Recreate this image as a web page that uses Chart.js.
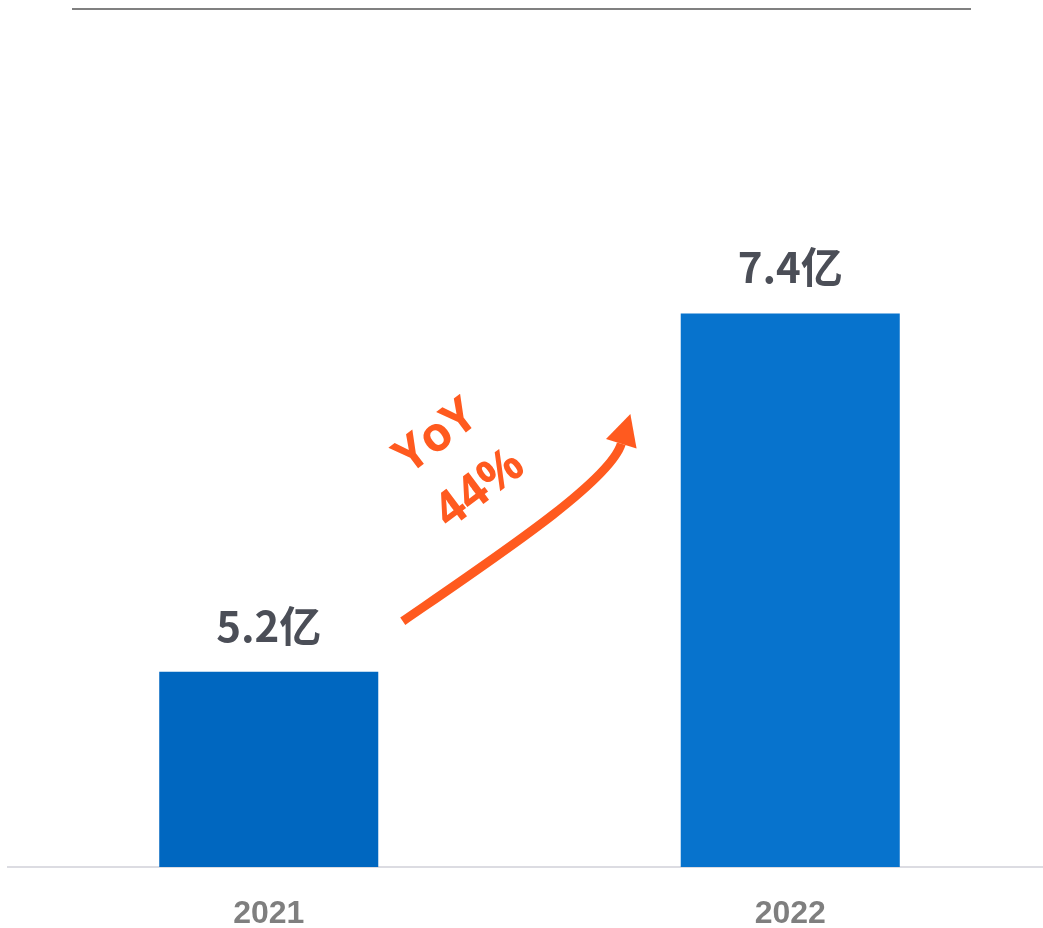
<!DOCTYPE html>
<html>
<head>
<meta charset="utf-8">
<script src="https://cdn.jsdelivr.net/npm/chart.js@4"></script>
<style>
  html, body { margin: 0; padding: 0; background: #fff; overflow: hidden; }
  #wrap { width: 1043px; height: 928px; overflow: hidden; }
</style>
</head>
<body>
<div id="wrap"><canvas id="chart" width="1051" height="928"></canvas></div>
<script>
const years = ['2021', '2022'];
const revenue = [5.2, 7.4];
const valueLabels = ['5.2亿', '7.4亿'];
const barColors = ['#0067c0', '#0773cd'];
const growthText = ['YoY', '44%'];

const orange = '#ff5a1f';

// curve & label positions in data space (category index, value)
const arrowPath = [[0.257, 5.51], [0.443, 5.92], [0.654, 6.37], [0.676, 6.60]];
const growthPos = [[0.322, 6.64], [0.405, 6.32]];

const decorations = {
  id: 'decorations',
  afterDatasetsDraw(chart) {
    const ctx = chart.ctx;
    const xs = chart.scales.x;
    const ys = chart.scales.y;
    const px = p => [xs.getPixelForValue(p[0]), ys.getPixelForValue(p[1])];

    ctx.save();
    // top rule
    ctx.strokeStyle = '#808080';
    ctx.lineWidth = 2;
    ctx.beginPath();
    ctx.moveTo(72, 9);
    ctx.lineTo(971, 9);
    ctx.stroke();

    // value labels above bars
    ctx.fillStyle = '#4b4e57';
    ctx.font = 'bold 42px "Noto Sans CJK SC"';
    ctx.textAlign = 'center';
    ctx.textBaseline = 'alphabetic';
    chart.getDatasetMeta(0).data.forEach((bar, i) => {
      ctx.fillText(valueLabels[i], bar.x, bar.y - 30);
    });

    // growth arrow
    const pts = arrowPath.map(px);
    ctx.strokeStyle = orange;
    ctx.lineWidth = 9;
    ctx.lineCap = 'butt';
    ctx.beginPath();
    ctx.moveTo(pts[0][0], pts[0][1]);
    ctx.bezierCurveTo(pts[1][0], pts[1][1], pts[2][0], pts[2][1], pts[3][0], pts[3][1]);
    ctx.stroke();
    let dx = pts[3][0] - pts[2][0], dy = pts[3][1] - pts[2][1];
    const len = Math.hypot(dx, dy);
    dx /= len; dy /= len;
    const headLen = 31, half = 16;
    const tip = [pts[3][0] + dx * headLen, pts[3][1] + dy * headLen];
    ctx.fillStyle = orange;
    ctx.beginPath();
    ctx.moveTo(tip[0], tip[1]);
    ctx.lineTo(pts[3][0] - dy * half, pts[3][1] + dx * half);
    ctx.lineTo(pts[3][0] + dy * half, pts[3][1] - dx * half);
    ctx.closePath();
    ctx.fill();

    // growth text
    ctx.font = 'bold 48px "Open Sans"';
    ctx.textBaseline = 'middle';
    growthText.forEach((t, i) => {
      const p = px(growthPos[i]);
      ctx.save();
      ctx.translate(p[0], p[1]);
      ctx.rotate(-37 * Math.PI / 180);
      ctx.fillText(t, 0, 0);
      ctx.restore();
    });
    ctx.restore();
  }
};

new Chart(document.getElementById('chart'), {
  type: 'bar',
  data: {
    labels: years,
    datasets: [{
      data: revenue,
      backgroundColor: barColors,
      barPercentage: 0.42,
      categoryPercentage: 1
    }]
  },
  options: {
    responsive: false,
    animation: false,
    layout: { padding: { top: 53, left: 8, right: 0, bottom: 0 } },
    plugins: { legend: { display: false }, tooltip: { enabled: false } },
    scales: {
      x: {
        grid: { display: false, drawTicks: false },
        border: { display: true, color: '#dcdce2', width: 2 },
        afterFit(scale) { scale.height = 61; },
        ticks: {
          color: '#7f7f7f',
          padding: 31,
          font: { family: '"Liberation Sans"', weight: 'bold', size: 32, lineHeight: 1 }
        }
      },
      y: {
        display: false,
        min: 4,
        max: 9
      }
    }
  },
  plugins: [decorations]
});
</script>
</body>
</html>
